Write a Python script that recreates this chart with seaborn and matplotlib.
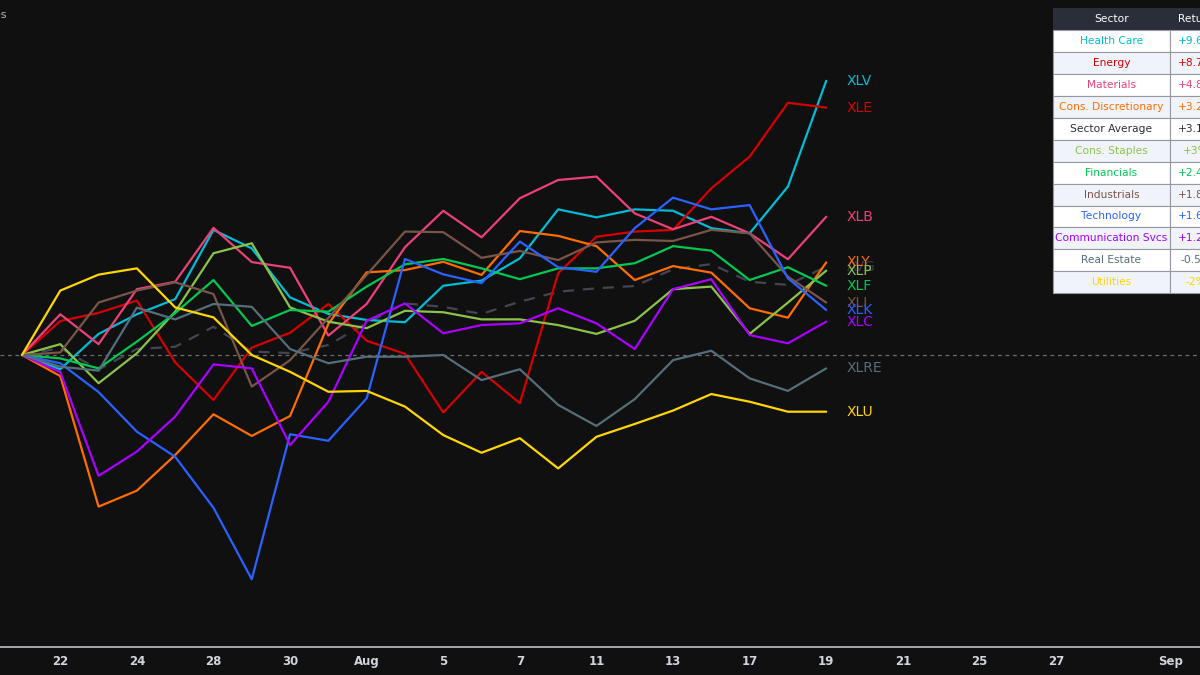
import numpy as np
import pandas as pd
import matplotlib
matplotlib.use('Agg')
import matplotlib.pyplot as plt
import seaborn as sns
from matplotlib.patches import Rectangle

# cumulative % change per trading day (index 0 = Jul 21)
xlv = [0, -0.50, 0.74, 1.43, 1.96, 4.39, 3.74, 2.02, 1.44, 1.23, 1.15, 2.43, 2.61, 3.39, 5.11, 4.83, 5.11, 5.06, 4.45, 4.27, 5.91, 9.62]
xle = [0, 1.19, 1.48, 1.91, -0.26, -1.58, 0.26, 0.78, 1.79, 0.50, 0.04, -2.02, -0.59, -1.69, 2.87, 4.15, 4.33, 4.39, 5.85, 6.96, 8.85, 8.68]
xlb = [0, 1.43, 0.38, 2.31, 2.57, 4.46, 3.26, 3.06, 0.68, 1.79, 3.78, 5.06, 4.13, 5.50, 6.14, 6.26, 4.97, 4.41, 4.85, 4.27, 3.36, 4.85]
xly = [0, -0.74, -5.32, -4.76, -3.51, -2.08, -2.84, -2.14, 1.09, 2.90, 2.98, 3.27, 2.81, 4.35, 4.18, 3.82, 2.63, 3.12, 2.89, 1.64, 1.31, 3.25]
xlp = [0, 0.38, -0.99, 0.06, 1.52, 3.57, 3.92, 1.67, 1.17, 0.94, 1.55, 1.50, 1.25, 1.25, 1.05, 0.74, 1.20, 2.31, 2.40, 0.74, 1.84, 2.96]
xlf = [0, -0.12, -0.47, 0.47, 1.47, 2.63, 1.02, 1.58, 1.52, 2.40, 3.18, 3.37, 3.04, 2.66, 3.04, 3.04, 3.22, 3.82, 3.66, 2.63, 3.08, 2.43]
xli = [0, 0.09, 1.84, 2.26, 2.55, 2.14, -1.11, -0.18, 1.30, 2.81, 4.33, 4.31, 3.41, 3.65, 3.33, 3.95, 4.04, 4.00, 4.39, 4.27, 2.75, 1.84]
xlk = [0, -0.29, -1.30, -2.69, -3.57, -5.36, -7.87, -2.78, -3.01, -1.52, 3.37, 2.83, 2.52, 3.98, 3.08, 2.92, 4.45, 5.52, 5.11, 5.26, 2.69, 1.58]
xlc = [0, -0.60, -4.24, -3.39, -2.16, -0.33, -0.47, -3.16, -1.64, 1.20, 1.81, 0.76, 1.05, 1.11, 1.64, 1.11, 0.21, 2.31, 2.66, 0.70, 0.41, 1.17]
xlre = [0, -0.41, -0.55, 1.66, 1.25, 1.79, 1.69, 0.21, -0.29, -0.06, -0.06, 0.00, -0.88, -0.50, -1.75, -2.49, -1.55, -0.18, 0.15, -0.82, -1.26, -0.47]
xlu = [0, 2.26, 2.82, 3.04, 1.67, 1.32, 0.00, -0.59, -1.29, -1.26, -1.81, -2.81, -3.43, -2.92, -3.98, -2.87, -2.42, -1.95, -1.37, -1.64, -1.99, -1.99]
sector_avg = [0, 0.24, -0.51, 0.21, 0.29, 0.99, 0.12, 0.07, 0.35, 1.12, 1.81, 1.69, 1.44, 1.87, 2.22, 2.34, 2.42, 3.01, 3.19, 2.57, 2.46, 3.10]

tickers = ['XLV', 'XLE', 'XLB', 'XLY', 'XLP', 'XLF', 'XLI', 'XLK', 'XLC', 'XLRE', 'XLU']
series = [xlv, xle, xlb, xly, xlp, xlf, xli, xlk, xlc, xlre, xlu]
colors = ['#00bcd4', '#d50000', '#ec407a', '#ff6d00', '#8bc34a', '#00c853',
          '#795548', '#2962ff', '#aa00ff', '#546e7a', '#ffd600']

tick_pos = [1, 3, 5, 7, 9, 11, 13, 15, 17, 19, 21, 23, 25, 27, 30]
tick_labels = ['22', '24', '28', '30', 'Aug', '5', '7', '11', '13', '17', '19', '21', '25', '27', 'Sep']

# table
table_names = ['Health Care', 'Energy', 'Materials', 'Cons. Discretionary', 'Sector Average',
               'Cons. Staples', 'Financials', 'Industrials', 'Technology',
               'Communication Svcs', 'Real Estate', 'Utilities']
table_returns = ['+9.6%', '+8.7%', '+4.8%', '+3.2%', '+3.1%', '+3%', '+2.4%',
                 '+1.8%', '+1.6%', '+1.2%', '-0.5%', '-2%']
table_colors = ['#00bcd4', '#d50000', '#ec407a', '#ff6d00', '#2a2e39', '#8bc34a',
                '#00c853', '#795548', '#2962ff', '#aa00ff', '#546e7a', '#ffd600']

BG = '#101010'
sns.set_style('dark')
plt.rcParams['font.family'] = ['DejaVu Sans']

days = np.arange(len(xlv))
df = pd.DataFrame({t: s for t, s in zip(tickers, series)})
df['day'] = days
long = df.melt(id_vars='day', var_name='ticker', value_name='ret')

fig = plt.figure(figsize=(12, 6.75), dpi=100, facecolor=BG)
ax = fig.add_axes([0, 28 / 675, 1, 647 / 675])
ax.set_facecolor(BG)

ax.axhline(0, color='#6a6d78', lw=0.9, ls=(0, (3, 3)), zorder=1)
sns.lineplot(x=days, y=sector_avg, color='#434651', lw=1.6, ls=(0, (5, 4)), ax=ax, zorder=2)
sns.lineplot(data=long, x='day', y='ret', hue='ticker', palette=dict(zip(tickers, colors)),
             hue_order=tickers, lw=1.6, legend=False, ax=ax, zorder=3)

# end labels
ax.text(21.54, sector_avg[-1], 'AVG', color='#3a3d46', fontsize=10, va='center', ha='left')
for t, s, c in zip(tickers, series, colors):
    ax.text(21.54, s[-1], t, color=c, fontsize=10, va='center', ha='left')

ax.set_xlim(-0.574, 30.76)
ax.set_ylim(-10.246, 12.456)
ax.set_xticks(tick_pos)
ax.set_xticklabels(tick_labels, color='#d1d4dc', fontsize=8.5, fontweight='bold',
                   family=['Liberation Sans Narrow', 'DejaVu Sans'])
ax.tick_params(axis='x', length=0, pad=6)
ax.set_yticks([])
ax.set_xlabel('')
ax.set_ylabel('')
ax.grid(False)
for side in ['top', 'left', 'right']:
    ax.spines[side].set_visible(False)
ax.spines['bottom'].set_color('#b2b5be')
ax.spines['bottom'].set_linewidth(1.3)

# overlay in pixel coords for the table
ov = fig.add_axes([0, 0, 1, 1], facecolor='none')
ov.set_xlim(0, 1200)
ov.set_ylim(675, 0)
ov.axis('off')

ov.text(7, 15, 'Sector ETFs: Cumulative % Changes', ha='right', va='center',
        color='#b2b5be', fontsize=8)

x0, x1, x2 = 1053, 1170, 1230
top, head_h, row_h = 8, 22, 21.94
ov.add_patch(Rectangle((x0, top), x2 - x0, head_h, fc='#2a2e39', ec='#2a2e39', lw=0.8))
ov.text((x0 + x1) / 2, top + head_h / 2, 'Sector', color='white', ha='center', va='center', fontsize=7.7)
ov.text(1196, top + head_h / 2, 'Return', color='white', ha='center', va='center', fontsize=7.7)
for k, (name, ret, c) in enumerate(zip(table_names, table_returns, table_colors)):
    y = top + head_h + k * row_h
    fc = 'white' if k % 2 == 0 else '#f0f3fa'
    ov.add_patch(Rectangle((x0, y), x1 - x0, row_h, fc=fc, ec='#9598a1', lw=0.8))
    ov.add_patch(Rectangle((x1, y), x2 - x1, row_h, fc=fc, ec='#9598a1', lw=0.8))
    ov.text((x0 + x1) / 2, y + row_h / 2, name, color=c, ha='center', va='center', fontsize=7.7)
    ov.text(1196, y + row_h / 2, ret, color=c, ha='center', va='center', fontsize=7.7)

fig.savefig('out.png', dpi=100, facecolor=BG)
